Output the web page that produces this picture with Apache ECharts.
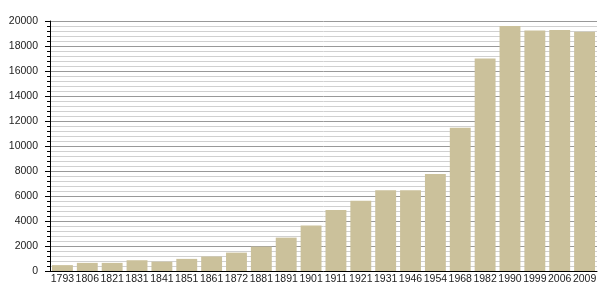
<!DOCTYPE html>
<html>
<head>
<meta charset="utf-8">
<script src="https://cdn.jsdelivr.net/npm/echarts@6/dist/echarts.min.js"></script>
<style>
  html, body { margin: 0; padding: 0; background: #fff; }
  #chart { width: 605px; height: 300px; }
</style>
</head>
<body>
<div id="chart"></div>
<script>
// années des recensements
var years = ['1793', '1806', '1821', '1831', '1841', '1851', '1861', '1872', '1881', '1891', '1901',
  '1911', '1921', '1931', '1946', '1954', '1968', '1982', '1990', '1999', '2006', '2009'];
// population
var population = [470, 650, 650, 860, 750, 970, 1160, 1470, 1950, 2670, 3650,
  4880, 5630, 6460, 6460, 7760, 11460, 17010, 19600, 19250, 19280, 19150];

var yMin = 0;
var yMax = 20000;
var yStep = 2000;

var chart = echarts.init(document.getElementById('chart'));
chart.setOption({
  animation: false,
  grid: { left: 50, right: 8, top: 21, bottom: 29 },
  xAxis: {
    type: 'category',
    data: years,
    axisLine: { lineStyle: { color: '#000', width: 1 } },
    axisTick: { show: false },
    axisLabel: { color: '#222', fontSize: 10.5, fontFamily: 'Liberation Sans', margin: 3, interval: 0 }
  },
  yAxis: {
    type: 'value',
    min: yMin,
    max: yMax,
    interval: yStep,
    axisLine: { show: true, lineStyle: { color: '#000', width: 1 } },
    axisTick: { show: true, length: 5, lineStyle: { color: '#000' } },
    minorTick: { show: true, splitNumber: 5, length: 3, lineStyle: { color: '#000' } },
    axisLabel: {
      color: '#222', fontSize: 10.5, fontFamily: 'Liberation Sans', margin: 12,
      formatter: function (v) { return String(v); }
    },
    splitLine: { show: true, lineStyle: { color: '#999', width: 1 } },
    minorSplitLine: { show: true, lineStyle: { color: '#d0d0d0', width: 1 } }
  },
  series: [{
    type: 'bar',
    data: population,
    barCategoryGap: '16%',
    itemStyle: { color: '#cbc19b' }
  }]
});
</script>
</body>
</html>
